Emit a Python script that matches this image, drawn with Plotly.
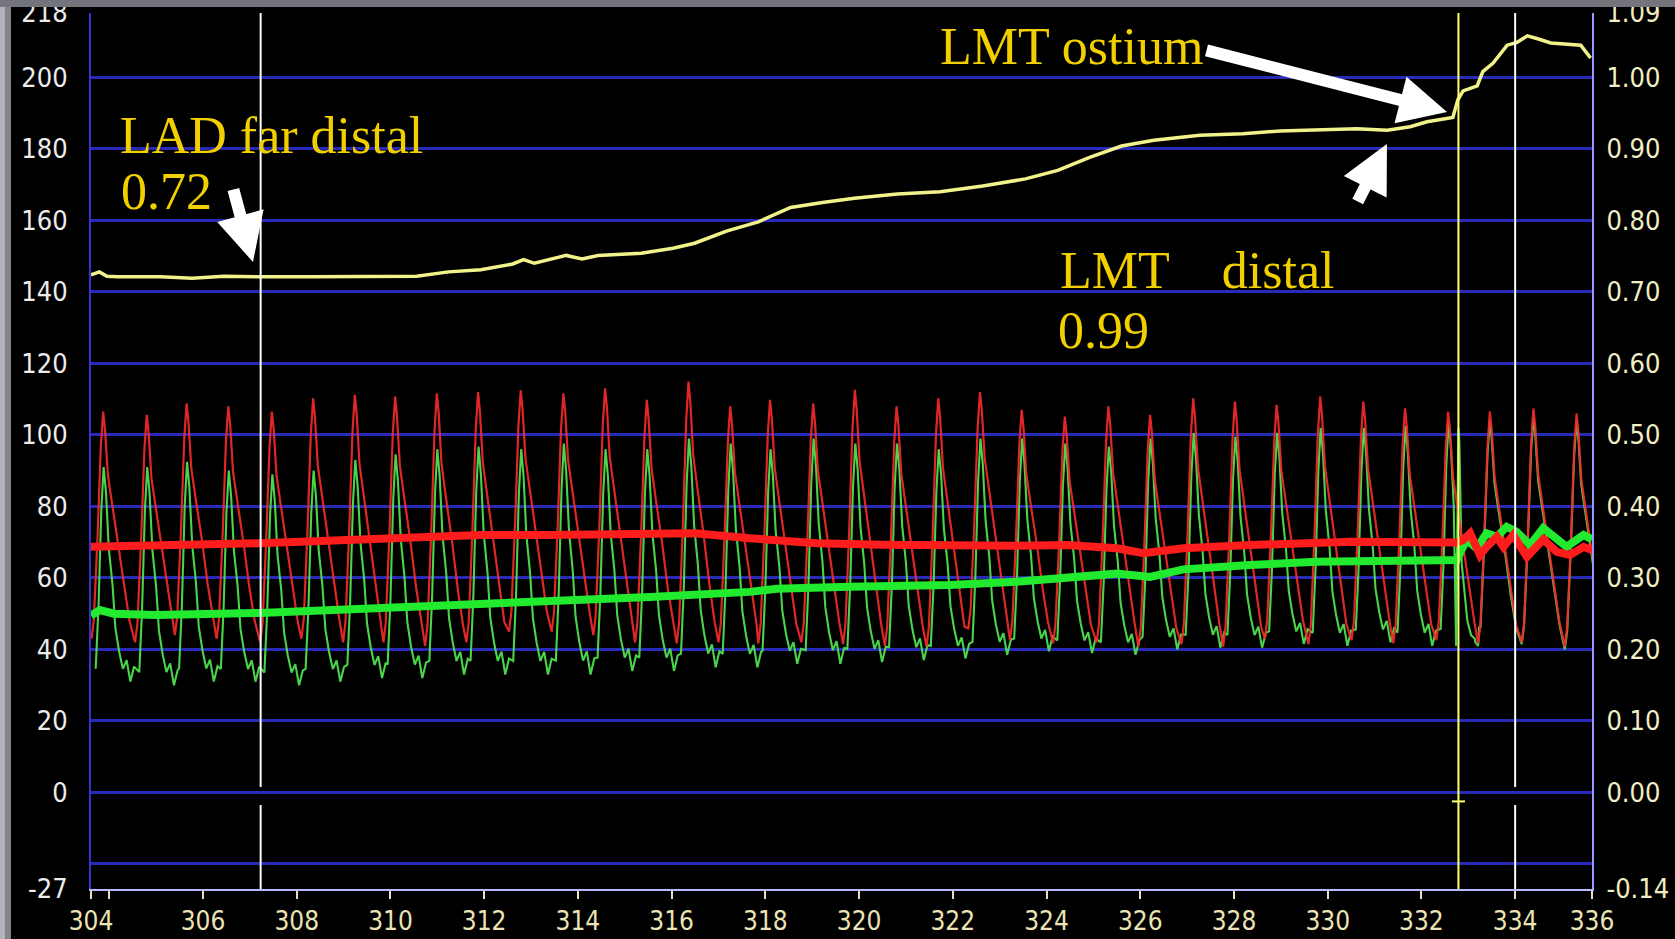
import plotly.graph_objects as go

# ---------------- FFR pullback recording (time in s) ----------------
# Pd/Pa ratio, yellow trace on the right axis
ffr_time = [303.61, 303.79, 303.95, 304.18, 305.09, 305.77, 306.45, 307.23, 308.28, 309.65,
            310.56, 311.24, 311.93, 312.61, 312.84, 313.07, 313.75, 314.09, 314.43, 315.35,
            316.03, 316.49, 317.17, 317.85, 318.54, 319.22, 319.90, 320.82, 321.73, 322.64,
            323.55, 324.24, 324.92, 325.60, 326.29, 327.27, 328.19, 328.98, 330.62, 331.27,
            331.76, 332.12, 332.67, 332.78, 332.89, 333.19, 333.31, 333.53, 333.83, 334.04,
            334.26, 334.48, 334.76, 335.40, 335.61]
ffr_ratio = [0.724, 0.728, 0.722, 0.721, 0.721, 0.719, 0.722, 0.721, 0.721, 0.721,
             0.722, 0.728, 0.731, 0.739, 0.745, 0.740, 0.751, 0.746, 0.751, 0.754,
             0.761, 0.768, 0.785, 0.798, 0.818, 0.825, 0.831, 0.837, 0.840, 0.848,
             0.858, 0.870, 0.888, 0.904, 0.912, 0.919, 0.921, 0.925, 0.928, 0.926,
             0.931, 0.938, 0.944, 0.969, 0.981, 0.988, 1.008, 1.020, 1.045, 1.049,
             1.058, 1.054, 1.048, 1.045, 1.027]

# Mean aortic pressure Pa (mmHg)
pa_mean_time = [303.61, 305.5, 307.22, 309.5, 311.91, 313.40, 315.54, 316.5, 317.67, 319.10,
                320.5, 321.94, 323.36, 324.43, 325.50, 326.07, 326.5, 326.92, 328.34, 329.77,
                330.48, 332.75, 332.89, 333.04, 333.25, 333.39, 333.61, 333.75, 333.96, 334.25,
                334.60, 334.89, 335.17, 335.46, 335.64]
pa_mean = [68.7, 69.0, 69.7, 70.8, 72.0, 72.0, 72.5, 72.5, 71.1, 69.7,
           69.3, 68.9, 69.0, 69.2, 68.3, 66.9, 67.8, 68.3, 69.2, 70.1,
           70.1, 69.9, 70.6, 72.5, 66.4, 68.7, 71.5, 68.7, 72.0, 65.9,
           70.8, 67.3, 66.4, 68.7, 67.8]

# Mean distal pressure Pd (mmHg)
pd_mean_time = [303.61, 303.8, 304.1, 305.0, 307.22, 309.5, 311.91, 313.40, 315.54, 317.67,
                318.0, 318.24, 319.81, 321.94, 323.36, 324.43, 325.50, 326.21, 326.92, 328.34,
                329.77, 332.75, 332.96, 333.18, 333.39, 333.61, 333.82, 334.03, 334.32, 334.60,
                334.82, 335.10, 335.46, 335.64]
pd_mean = [49.5, 51.0, 50.0, 49.6, 50.2, 51.3, 52.4, 53.3, 54.7, 56.1,
           56.4, 57.0, 57.5, 58.0, 58.9, 60.3, 61.2, 60.3, 62.4, 63.6,
           64.5, 65.0, 70.6, 68.3, 72.5, 71.5, 74.3, 72.9, 69.2, 73.9,
           71.5, 68.7, 72.0, 70.8]

# Beat-by-beat phasic pressures: time of each systolic peak and its pressures
beat_peak_time = [303.87, 304.80, 305.65, 306.54, 307.47, 308.35, 309.24, 310.10, 310.99, 311.87,
                  312.78, 313.69, 314.58, 315.47, 316.36, 317.25, 318.10, 319.02, 319.91, 320.80,
                  321.69, 322.58, 323.47, 324.39, 325.32, 326.21, 327.13, 328.02, 328.91, 329.84,
                  330.76, 331.65, 332.57, 333.46, 334.39, 335.31]
pa_systolic = [106.5, 105.6, 108.8, 108.0, 106.5, 110.2, 111.2, 110.7, 111.6, 112.0,
               112.5, 111.6, 113.0, 109.8, 114.9, 108.0, 109.8, 108.8, 112.6, 108.0,
               110.2, 112.0, 107.0, 105.1, 108.0, 105.6, 110.2, 109.3, 108.4, 110.7,
               109.3, 107.4, 106.5, 106.5, 107.4, 106.0]
pa_diastolic = [43.0, 42.0, 44.0, 43.0, 42.0, 43.0, 42.0, 42.0, 41.0, 42.0,
                45.0, 45.0, 44.0, 42.0, 41.7, 42.0, 41.7, 42.0, 41.5, 41.0,
                40.8, 45.9, 42.6, 41.7, 42.0, 40.8, 41.5, 40.8, 43.0, 41.5,
                42.6, 41.7, 42.6, 41.7, 42.0, 40.8]
pd_systolic = [91.0, 91.0, 92.5, 90.0, 89.0, 90.0, 93.0, 94.6, 96.0, 96.7,
               96.0, 97.6, 96.0, 96.0, 99.0, 97.6, 96.0, 99.0, 97.6, 97.6,
               96.0, 99.0, 99.0, 97.6, 96.7, 99.0, 100.6, 99.5, 100.6, 102.0,
               102.0, 102.5, 103.6, 104.0, 105.0, 104.0]
pd_diastolic = [31.0, 30.0, 31.0, 31.0, 30.0, 31.0, 32.0, 32.0, 33.0, 33.0,
                33.0, 33.0, 34.0, 34.0, 35.0, 35.0, 36.0, 36.0, 36.5, 37.0,
                37.5, 38.5, 39.5, 39.0, 38.5, 40.0, 40.5, 40.5, 41.5, 41.0,
                42.0, 41.0, 42.0, 41.0, 41.5, 40.0]
# distal contour while the wire is in the artery, aortic contour once it is pulled out
pd_contour_kind = ["distal"] * 33 + ["aortic"] * 3

# Pressure contour of one beat: offset from the systolic peak (s) and fraction of pulse pressure
aortic_contour_dt = [-0.25, -0.20, -0.12, -0.05, 0.00, 0.04, 0.10, 0.20, 0.32, 0.45, 0.56]
aortic_contour_level = [0.00, 0.08, 0.45, 0.85, 1.00, 0.92, 0.72, 0.58, 0.42, 0.22, 0.08]
distal_contour_dt = [-0.16, -0.10, -0.04, 0.01, 0.06, 0.12, 0.20, 0.26, 0.34, 0.42, 0.50, 0.58, 0.66]
distal_contour_level = [0.06, 0.35, 0.80, 1.00, 0.88, 0.62, 0.45, 0.25, 0.14, 0.06, 0.10, 0.00, 0.07]

# Distal pressure transient as the sensor leaves the left main ostium
pullback_time = [332.74, 332.79, 332.81, 332.86, 332.98, 333.06, 333.14]
pullback_pd = [41.0, 102.0, 98.0, 64.0, 48.0, 44.0, 43.0]

# Cursors
cursor_time = [307.23, 332.79, 334.0]
cursor_color = ["#ffffff", "#ffff70", "#ffffff"]
cursor_gap = [True, False, True]

# Axis ticks
x_tick_vals = [303.61, 304, 306, 308, 310, 312, 314, 316, 318, 320, 322, 324, 326, 328, 330,
               332, 334, 335.64]
x_tick_text = ["304", "", "306", "308", "310", "312", "314", "316", "318", "320", "322", "324",
               "326", "328", "330", "332", "334", "336"]
left_tick_vals = [-27, 0, 20, 40, 60, 80, 100, 120, 140, 160, 180, 200, 218]
left_tick_text = ["-27", "0", "20", "40", "60", "80", "100", "120", "140", "160", "180", "200", "218"]
right_tick_vals = [-0.135, 0.0, 0.1, 0.2, 0.3, 0.4, 0.5, 0.6, 0.7, 0.8, 0.9, 1.0, 1.09]
right_tick_text = ["-0.14", "0.00", "0.10", "0.20", "0.30", "0.40", "0.50", "0.60", "0.70",
                   "0.80", "0.90", "1.00", "1.09"]

CONTOURS = {"aortic": (aortic_contour_dt, aortic_contour_level),
            "distal": (distal_contour_dt, distal_contour_level)}


def phasic_trace(peaks, systolic, diastolic, kinds):
    xs, ys = [], []
    for tp, hi, lo, kind in zip(peaks, systolic, diastolic, kinds):
        dts, levels = CONTOURS[kind]
        for dt, f in zip(dts, levels):
            xs.append(tp + dt)
            ys.append(lo + f * (hi - lo))
    return xs, ys


pa_x, pa_y = phasic_trace(beat_peak_time, pa_systolic, pa_diastolic,
                          ["aortic"] * len(beat_peak_time))
pd_x, pd_y = phasic_trace(beat_peak_time, pd_systolic, pd_diastolic, pd_contour_kind)
# splice in the transient at the ostium
pts = [(x, y) for x, y in zip(pd_x, pd_y) if not (pullback_time[0] <= x <= pullback_time[-1])]
pts += list(zip(pullback_time, pullback_pd))
pts.sort()
pd_x = [p[0] for p in pts]
pd_y = [p[1] for p in pts]

fig = go.Figure()
fig.add_trace(go.Scatter(x=pd_x, y=pd_y, mode="lines",
                         line=dict(color="#4ee04e", width=2.1), opacity=0.95))
fig.add_trace(go.Scatter(x=pa_x, y=pa_y, mode="lines",
                         line=dict(color="#f42a2a", width=2.2), opacity=0.92))
fig.add_trace(go.Scatter(x=pd_mean_time, y=pd_mean, mode="lines",
                         line=dict(color="#22ea2e", width=8)))
fig.add_trace(go.Scatter(x=pa_mean_time, y=pa_mean, mode="lines",
                         line=dict(color="#ff1c1c", width=8)))
fig.add_trace(go.Scatter(x=ffr_time, y=ffr_ratio, mode="lines", yaxis="y2",
                         line=dict(color="#f2f28a", width=3.5)))

# cursor lines
shapes = []
for t, c, gap in zip(cursor_time, cursor_color, cursor_gap):
    if gap:
        shapes.append(dict(type="line", xref="x", yref="y", x0=t, x1=t, y0=1.5, y1=218,
                           line=dict(color=c, width=2)))
        shapes.append(dict(type="line", xref="x", yref="y", x0=t, x1=t, y0=-27, y1=-3.5,
                           line=dict(color=c, width=2)))
    else:
        shapes.append(dict(type="line", xref="x", yref="y", x0=t, x1=t, y0=-27, y1=218,
                           line=dict(color=c, width=2)))
        shapes.append(dict(type="line", xref="x", yref="y", x0=t - 0.14, x1=t + 0.14,
                           y0=-2.5, y1=-2.5, line=dict(color=c, width=2)))

# grey frame of the monitor photograph
shapes.append(dict(type="rect", xref="paper", yref="paper", x0=-0.0607, x1=-0.0573,
                   y0=-0.06, y1=1.02, line=dict(width=0), fillcolor="#b4b4bc", layer="above"))
shapes.append(dict(type="rect", xref="paper", yref="paper", x0=-0.0573, x1=-0.0533,
                   y0=-0.06, y1=1.02, line=dict(width=0), fillcolor="#84848c", layer="above"))
shapes.append(dict(type="rect", xref="paper", yref="paper", x0=-0.0607, x1=1.06,
                   y0=1.0068, y1=1.02, line=dict(width=0), fillcolor="#74747c", layer="above"))

label_font = dict(family="Liberation Serif, DejaVu Serif, serif", size=52, color="#f2d000")
annotations = [
    dict(text="LAD far distal", xref="paper", yref="paper", x=0.0180, y=0.8607,
         xanchor="left", yanchor="middle", showarrow=False, font=label_font),
    dict(text="0.72", xref="paper", yref="paper", x=0.0187, y=0.7968,
         xanchor="left", yanchor="middle", showarrow=False, font=label_font),
    dict(text="LMT ostium", xref="paper", yref="paper", x=0.5643, y=0.9612,
         xanchor="left", yanchor="middle", showarrow=False, font=label_font),
    dict(text="LMT\u00a0\u00a0\u00a0\u00a0distal", xref="paper", yref="paper", x=0.6440,
         y=0.7055, xanchor="left", yanchor="middle", showarrow=False, font=label_font),
    dict(text="0.99", xref="paper", yref="paper", x=0.6430, y=0.6381,
         xanchor="left", yanchor="middle", showarrow=False, font=label_font),
]
arrow_style = dict(text="", showarrow=True, arrowhead=2, arrowsize=0.8, arrowwidth=12,
                   arrowcolor="white", axref="pixel", ayref="pixel", standoff=0,
                   xref="paper", yref="paper")
annotations += [
    dict(x=0.1079, y=0.7158, ax=-20, ay=-74, **arrow_style),
    dict(x=0.9034, y=0.8870, ax=-242, ay=-62, **arrow_style),
    dict(x=0.8634, y=0.8505, ax=-30, ay=59, **arrow_style),
]

narrow = "DejaVu Sans Condensed, Liberation Sans Narrow, Arial Narrow, sans-serif"
fig.update_layout(
    width=1675, height=939,
    margin=dict(l=91, r=83, t=13, b=50, autoexpand=False),
    paper_bgcolor="black", plot_bgcolor="black",
    showlegend=False,
    shapes=shapes,
    annotations=annotations,
    xaxis=dict(range=[303.61, 335.64], tickmode="array", tickvals=x_tick_vals,
               ticktext=x_tick_text, ticks="outside", ticklen=8, tickwidth=1.5,
               tickcolor="#e8e0b8", ticklabelstandoff=0, automargin=False,
               ticklabeloverflow="allow",
               tickfont=dict(family=narrow, size=26, color="#ece4b4"),
               showgrid=False, zeroline=False, showline=True, linecolor="#b8b8ff",
               linewidth=2),
    yaxis=dict(range=[-27, 218], tickmode="array", tickvals=left_tick_vals,
               ticktext=left_tick_text, ticks="", ticklabelstandoff=16, automargin=False,
               ticklabeloverflow="allow",
               tickfont=dict(family=narrow, size=27, color="#ececec"),
               showgrid=True, gridcolor="#2a2ab8", gridwidth=2.5,
               minor=dict(tickvals=[-20], showgrid=True, gridcolor="#2a2ab8", gridwidth=2.5,
                          ticks=""),
               zeroline=False, showline=True, linecolor="#3434c8", linewidth=2),
    yaxis2=dict(range=[-0.135, 1.09], overlaying="y", side="right", tickmode="array",
                tickvals=right_tick_vals, ticktext=right_tick_text, ticks="",
                ticklabelstandoff=7, automargin=False, ticklabeloverflow="allow",
                tickfont=dict(family=narrow, size=27, color="#f0eec4"),
                showgrid=False, zeroline=False, showline=True, linecolor="#9a9aff",
                linewidth=2),
)

fig.write_html("out.html")
